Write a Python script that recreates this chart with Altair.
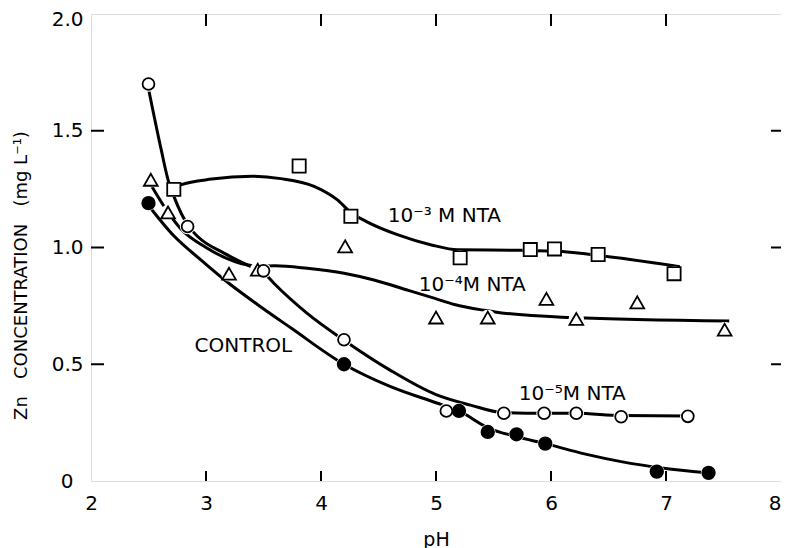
import altair as alt
import pandas as pd

# ---------------- data ----------------
control_ph = [2.50, 4.20, 5.20, 5.45, 5.70, 5.95, 6.92, 7.37]
control_zn = [1.19, 0.50, 0.30, 0.21, 0.20, 0.16, 0.04, 0.035]

nta5_ph = [2.50, 2.84, 3.50, 4.20, 5.09, 5.59, 5.94, 6.22, 6.61, 7.19]
nta5_zn = [1.70, 1.09, 0.90, 0.605, 0.30, 0.29, 0.29, 0.29, 0.275, 0.277]

nta4_ph = [2.52, 2.67, 3.20, 3.45, 4.21, 5.00, 5.45, 5.96, 6.22, 6.75, 7.51]
nta4_zn = [1.29, 1.15, 0.888, 0.905, 1.005, 0.70, 0.70, 0.78, 0.694, 0.765, 0.648]

nta3_ph = [2.72, 3.81, 4.26, 5.21, 5.82, 6.03, 6.41, 7.07]
nta3_zn = [1.249, 1.349, 1.134, 0.956, 0.991, 0.994, 0.97, 0.888]

# hand-drawn fitted curves
control_curve_ph = [2.50, 2.72, 2.96, 3.19, 3.45, 3.74, 4.20, 4.60, 5.00, 5.20, 5.45, 5.70, 5.95, 6.30, 6.61, 6.98, 7.35]
control_curve_zn = [1.18, 1.05, 0.945, 0.85, 0.755, 0.655, 0.50, 0.405, 0.335, 0.30, 0.228, 0.19, 0.16, 0.115, 0.083, 0.055, 0.035]

nta5_curve_ph = [2.50, 2.61, 2.67, 2.72, 2.85, 2.93, 3.16, 3.39, 3.50, 3.59, 3.88, 4.20, 4.60, 5.00, 5.30, 5.58, 5.94, 6.22, 6.61, 7.19]
nta5_curve_zn = [1.68, 1.42, 1.29, 1.22, 1.09, 1.046, 0.975, 0.918, 0.893, 0.847, 0.718, 0.603, 0.475, 0.37, 0.325, 0.293, 0.29, 0.29, 0.28, 0.278]

nta4_curve_ph = [2.53, 2.67, 2.78, 3.00, 3.25, 3.45, 3.60, 3.88, 4.20, 4.46, 4.75, 4.99, 5.16, 5.42, 5.54, 6.17, 7.55]
nta4_curve_zn = [1.26, 1.15, 1.08, 1.00, 0.94, 0.92, 0.922, 0.911, 0.89, 0.861, 0.818, 0.782, 0.756, 0.731, 0.722, 0.70, 0.685]

nta3_curve_ph = [2.72, 2.78, 3.05, 3.40, 3.65, 3.94, 4.14, 4.26, 4.40, 4.67, 4.96, 5.19, 5.74, 6.03, 6.38, 7.12]
nta3_curve_zn = [1.25, 1.268, 1.293, 1.305, 1.295, 1.262, 1.205, 1.15, 1.11, 1.054, 1.011, 0.99, 0.988, 0.985, 0.968, 0.918]

# drawing order: open circles last so they sit on top
series_names = ["1e-4", "1e-3", "CONTROL", "1e-5"]
series_shapes = ["triangle-up", "square", "circle", "circle"]
series_fills = ["white", "white", "black", "white"]
series_sizes = [190, 140, 100, 100]

label_texts = ["10\u207b\u00b3 M NTA", "10\u207b\u2074M NTA", "10\u207b\u2075M NTA", "CONTROL"]
label_ph = [4.58, 4.85, 5.72, 2.90]
label_zn = [1.109, 0.814, 0.347, 0.552]

x_ticks = [3, 4, 5, 6, 7]
y_ticks = [0.5, 1.0, 1.5]
x_labels = [2, 3, 4, 5, 6, 7, 8]
y_labels = [0, 0.5, 1.0, 1.5, 2.0]

# ---------------- tables ----------------
pts_by_series = {
    "CONTROL": (control_ph, control_zn),
    "1e-5": (nta5_ph, nta5_zn),
    "1e-4": (nta4_ph, nta4_zn),
    "1e-3": (nta3_ph, nta3_zn),
}
pts_rows = []
for k, name in enumerate(series_names):
    phs, zns = pts_by_series[name]
    for p, z in zip(phs, zns):
        pts_rows.append({"series": name, "ph": p, "zn": z, "k": k})
points = pd.DataFrame(pts_rows)

crv_by_series = {
    "CONTROL": (control_curve_ph, control_curve_zn),
    "1e-5": (nta5_curve_ph, nta5_curve_zn),
    "1e-4": (nta4_curve_ph, nta4_curve_zn),
    "1e-3": (nta3_curve_ph, nta3_curve_zn),
}
crv_rows = []
for name in series_names:
    phs, zns = crv_by_series[name]
    for i, (p, z) in enumerate(zip(phs, zns)):
        crv_rows.append({"series": name, "ph": p, "zn": z, "order": i})
curves = pd.DataFrame(crv_rows)

labels = pd.DataFrame({"ph": label_ph, "zn": label_zn, "text": label_texts})
xt = pd.DataFrame({"ph": x_ticks})
yt = pd.DataFrame({"zn": y_ticks})

FONT = "DejaVu Sans"
W, H = 690, 467

x_enc = alt.X("ph:Q",
              scale=alt.Scale(domain=[2, 8], nice=False, zero=False),
              axis=alt.Axis(values=x_labels, title="pH", domain=False, ticks=False, grid=False,
                            labelFlush=False,
                            labelAlign={"condition": {"test": "datum.value == 8", "value": "right"},
                                        "value": "center"},
                            labelFont=FONT, labelFontSize=20, labelColor="black", labelPadding=12,
                            titleFont=FONT, titleFontSize=19, titleFontWeight="normal", titleColor="black",
                            titleY=64, titleBaseline="alphabetic"))
y_enc = alt.Y("zn:Q",
              scale=alt.Scale(domain=[0, 2], nice=False, zero=True),
              axis=alt.Axis(values=y_labels,
                            title="Zn\u00a0\u00a0\u00a0CONCENTRATION\u00a0\u00a0\u00a0(mg\u00a0L\u207b\u00b9)",
                            domain=False, ticks=False, grid=False, labelFlush=False,
                            labelExpr="datum.value == 0 ? '0' : format(datum.value, '.1f')",
                            labelOffset={"condition": {"test": "datum.value == 2", "value": 5},
                                         "value": 0},
                            labelPadding={"condition": {"test": "datum.value == 0", "value": 18},
                                          "value": 8},
                            labelFont=FONT, labelFontSize=20, labelColor="black",
                            titleFont=FONT, titleFontSize=18, titleFontWeight="normal", titleColor="black",
                            titleX=-70, titleY=261, titleBaseline="middle", titleAngle=-90))

lines = alt.Chart(curves).mark_line(interpolate="monotone", strokeWidth=3, color="black").encode(
    x=x_enc, y=y_enc, detail="series:N", order="order:Q")

halo = alt.Chart(points).mark_point(filled=True, fill="white", strokeWidth=0, size=240, opacity=1).encode(
    x=x_enc, y=y_enc)

markers = alt.Chart(points).mark_point(filled=True, stroke="black", strokeWidth=1.8, opacity=1).encode(
    x=x_enc, y=y_enc,
    shape=alt.Shape("series:N", scale=alt.Scale(domain=series_names, range=series_shapes), legend=None),
    fill=alt.Fill("series:N", scale=alt.Scale(domain=series_names, range=series_fills), legend=None),
    size=alt.Size("series:N", scale=alt.Scale(domain=series_names, range=series_sizes), legend=None),
    order=alt.Order("k:Q"),
)

texts = alt.Chart(labels).mark_text(align="left", baseline="alphabetic", font=FONT, fontSize=20,
                                    color="black").encode(x=x_enc, y=y_enc, text="text:N")

tick_bottom = alt.Chart(xt).mark_rule(color="black", strokeWidth=2).encode(
    x=x_enc, y=alt.value(H), y2=alt.value(H - 10))
tick_top = alt.Chart(xt).mark_rule(color="black", strokeWidth=2).encode(
    x=x_enc, y=alt.value(0), y2=alt.value(12))
tick_left = alt.Chart(yt).mark_rule(color="black", strokeWidth=2).encode(
    y=y_enc, x=alt.value(0), x2=alt.value(13))
tick_right = alt.Chart(yt).mark_rule(color="black", strokeWidth=2).encode(
    y=y_enc, x=alt.value(W), x2=alt.value(W - 10))

chart = alt.layer(lines, halo, markers, texts, tick_bottom, tick_top, tick_left, tick_right).properties(
    width=W, height=H,
    autosize=alt.AutoSizeParams(type="none"),
    padding={"left": 83, "top": 6, "right": 0, "bottom": 67},
).configure_view(stroke="black", strokeWidth=2).configure(background="white")

chart.save("out.html", embed_options={"renderer": "svg", "actions": False})
